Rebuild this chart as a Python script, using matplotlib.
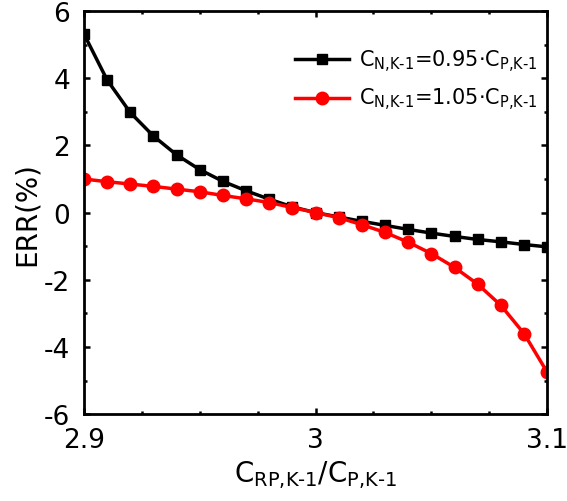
import numpy as np
import matplotlib
matplotlib.use("Agg")
import matplotlib.pyplot as plt
from matplotlib.ticker import MultipleLocator

# ratio C_RP,K-1 / C_P,K-1
ratio = [2.90, 2.91, 2.92, 2.93, 2.94, 2.95, 2.96, 2.97, 2.98, 2.99, 3.00,
         3.01, 3.02, 3.03, 3.04, 3.05, 3.06, 3.07, 3.08, 3.09, 3.10]

# ERR (%) for C_N,K-1 = 0.95 * C_P,K-1
err_low = [5.32, 3.95, 2.98, 2.28, 1.72, 1.28, 0.93, 0.65, 0.40, 0.17, 0.0,
           -0.13, -0.26, -0.38, -0.50, -0.61, -0.71, -0.80, -0.87, -0.95, -1.02]

# ERR (%) for C_N,K-1 = 1.05 * C_P,K-1
err_high = [1.00, 0.92, 0.85, 0.78, 0.70, 0.62, 0.51, 0.41, 0.30, 0.15, 0.0,
            -0.15, -0.36, -0.59, -0.88, -1.22, -1.63, -2.13, -2.76, -3.60, -4.75]

label_low = r"C$_{N{,}K\text{-}1}$=0.95$\cdot$C$_{P{,}K\text{-}1}$"
label_high = r"C$_{N{,}K\text{-}1}$=1.05$\cdot$C$_{P{,}K\text{-}1}$"

plt.rcParams["mathtext.default"] = "regular"
plt.rcParams["axes.unicode_minus"] = False
plt.rcParams["font.family"] = ["DejaVu Sans"]

fig = plt.figure(figsize=(5.67, 5.02), dpi=100)
ax = fig.add_axes([0.148, 0.173, 0.817, 0.803])

ax.plot(ratio, err_low, color="black", lw=2.5, marker="s", ms=7.5, label=label_low)
ax.plot(ratio, err_high, color="red", lw=2.5, marker="o", ms=9, label=label_high)

ax.set_xlim(2.9, 3.1)
ax.set_ylim(-6, 6)
ax.set_xticks([2.9, 3.0, 3.1])
ax.set_xticklabels(["2.9", "3", "3.1"])
ax.xaxis.set_minor_locator(MultipleLocator(0.025))
ax.set_yticks([-6, -4, -2, 0, 2, 4, 6])
ax.yaxis.set_minor_locator(MultipleLocator(1))

for s in ax.spines.values():
    s.set_linewidth(2)
ax.tick_params(which="both", direction="in", top=True, right=True, width=1.8)
ax.tick_params(which="major", length=4.5, labelsize=19)
ax.tick_params(which="minor", length=2.5)
ax.tick_params(axis="x", pad=9)
ax.tick_params(axis="y", pad=10)

ax.set_xlabel(r"C$_{RP{,}K\text{-}1}$/C$_{P{,}K\text{-}1}$", fontsize=20, labelpad=4)
ax.set_ylabel("ERR(%)", fontsize=20, labelpad=2)

ax.legend(loc="upper right", bbox_to_anchor=(0.998, 0.93), frameon=False,
          fontsize=15, handlelength=2.6, borderaxespad=0.0,
          handletextpad=0.5, labelspacing=0.6)

fig.savefig("out.png", dpi=100)
